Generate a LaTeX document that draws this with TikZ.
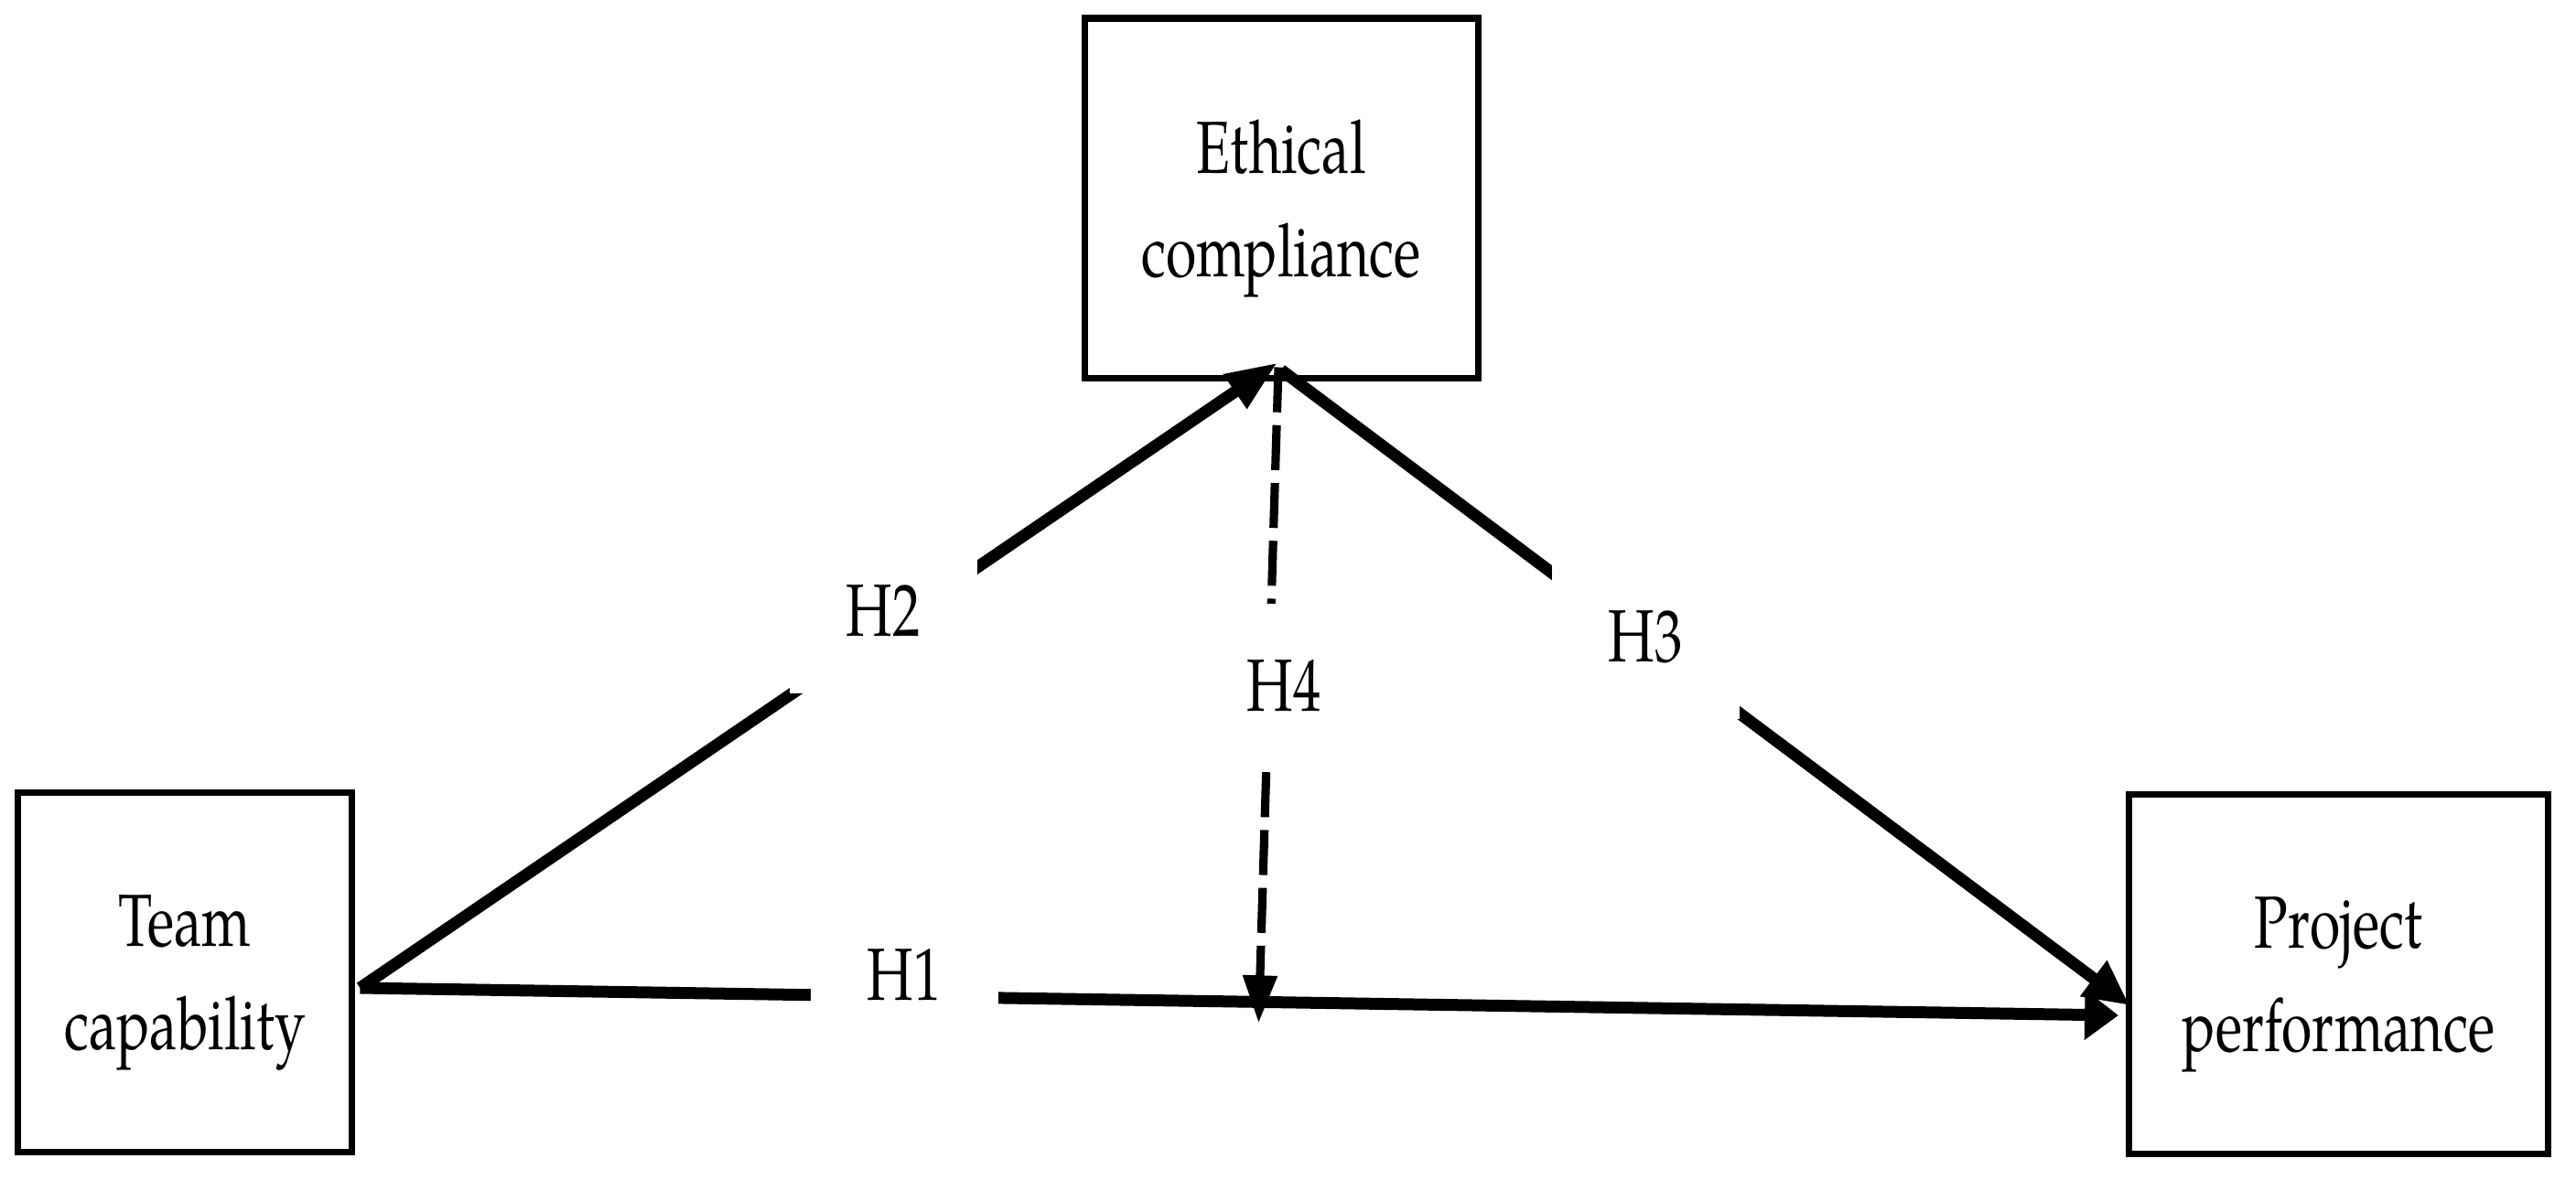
\documentclass[tikz,border=0pt]{standalone}
\usepackage{fontspec}
\setmainfont{TeX Gyre Pagella}[FakeStretch=0.75]
\usetikzlibrary{arrows.meta}

\begin{document}
\begin{tikzpicture}[
  every node/.style={font=\fontsize{23}{32}\selectfont},
  var/.style={draw=black,line width=2pt,outer sep=0pt,inner sep=0pt,
              minimum height=3.93cm,align=center,text depth=0pt},
  hyp/.style={fill=white,inner sep=0pt,minimum width=2.05cm,minimum height=1.8cm},
  link/.style={line width=3.7pt},
  mod/.style={line width=2.6pt,dash pattern=on 14pt off 4pt}
]
  \useasboundingbox (0,0) rectangle (28.15,-12.89);
  \node[var,minimum width=3.65cm] (team) at (2.02,-10.63) {Team\\capability};
  \node[var,minimum width=4.30cm] (ethic) at (14.00,-2.165) {Ethical\\compliance};
  \node[var,minimum width=4.58cm] (proj) at (25.555,-10.65) {Project\\performance};

  \coordinate (src) at ([shift={(0.09,-0.17)}]team.east);
  \draw[link,-{Triangle[length=10.5pt,width=15pt]}] (src)
    -- coordinate[pos=0.511] (h4foot) ([shift={(-0.115,-0.45)}]proj.west);
  \draw[link,-{Triangle[length=16pt,width=12pt]}] (src) -- ([shift={(-0.04,0.165)}]ethic.south);
  \draw[link,-{Triangle[length=14pt,width=13pt]}] ([yshift=0.085cm]ethic.south)
    -- ([shift={(0.005,-0.34)}]proj.west);
  \draw[mod,-{Triangle[length=14.8pt,width=10.2pt]}] ([shift={(-0.03,0.115)}]ethic.south)
    -- ([yshift=-0.23cm]h4foot);

  \node[hyp] (h1) at (9.88,-10.66) {H1};
  \node[hyp] (h2) at (9.65,-6.68) {H2};
  \node[hyp] (h3) at (17.98,-6.96) {H3};
  \node[hyp] (h4) at (14.03,-7.50) {H4};
\end{tikzpicture}
\end{document}
